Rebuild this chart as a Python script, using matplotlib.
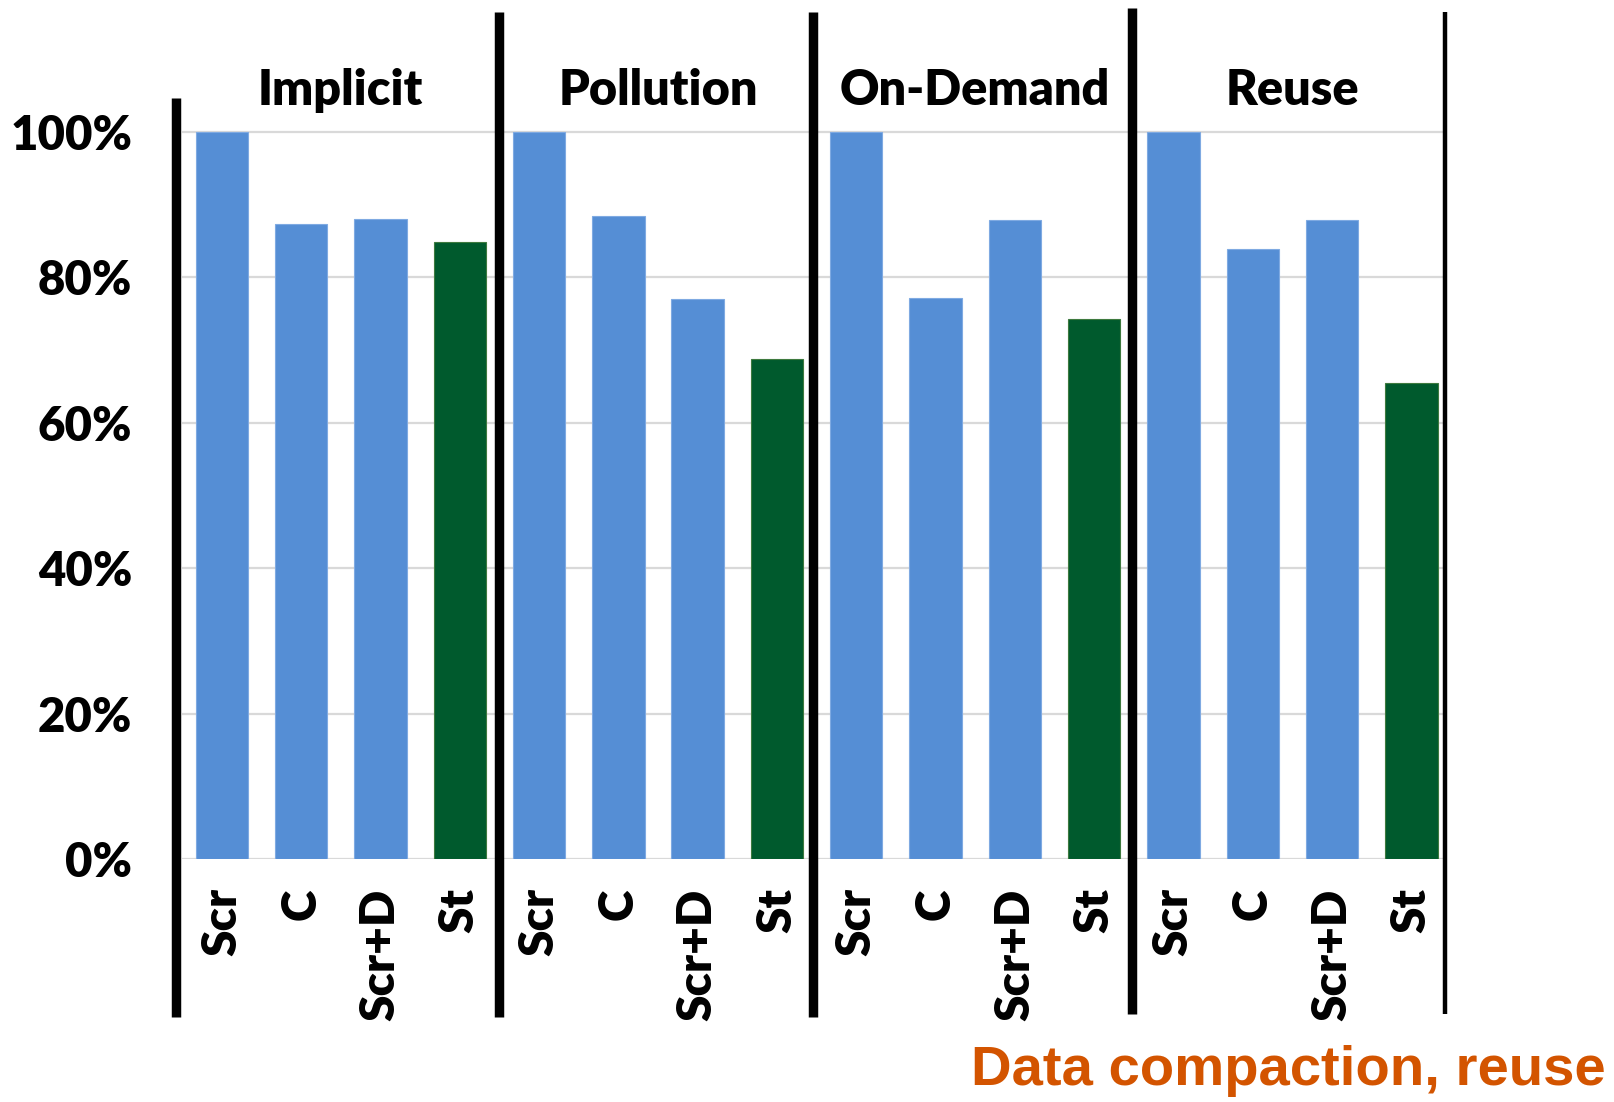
import matplotlib.pyplot as plt
from matplotlib.lines import Line2D
from matplotlib.transforms import blended_transform_factory
from matplotlib.ticker import FuncFormatter

# --- Data ---
groups = ['Implicit', 'Pollution', 'On-Demand', 'Reuse']
configs = ['Scr', 'C', 'Scr+D', 'St']
implicit = [100, 87.3, 88.0, 84.8]
pollution = [100, 88.4, 77.0, 68.8]
on_demand = [100, 77.2, 87.9, 74.3]
reuse = [100, 83.9, 87.8, 65.4]
yticks = [0, 20, 40, 60, 80, 100]

blue = '#558ED5'
green = '#005A2D'
font = 'Lato'
weight = 'heavy'

W, H = 1614, 1102
fig = plt.figure(figsize=(W / 100, H / 100), dpi=100)

# plot area in pixels (from top-left)
step = 79.3
left_px, right_px = 182.2, 1443.0
y0_px, y100_px = 859.2, 131.7
ppu = (y0_px - y100_px) / 100
ytop_px = y100_px - ppu * 1.0
ax = fig.add_axes([left_px / W, 1 - y0_px / H, (right_px - left_px) / W, (y0_px - ytop_px) / H])

values = implicit + pollution + on_demand + reuse
labels = configs * len(groups)
colors = [green if c == 'St' else blue for c in labels]
edges = ['#3E7A3F' if c == 'St' else '#7FAAE2' for c in labels]
x = list(range(len(values)))

ax.bar(x, values, width=0.66, color=colors, edgecolor=edges, linewidth=0.8, zorder=3)

ax.set_xlim(-0.5, -0.5 + (right_px - left_px) / step)
ax.set_ylim(0, 101)
ax.set_yticks(yticks)
ax.yaxis.set_major_formatter(FuncFormatter(lambda v, p: f'{v:.0f}%'))
ax.grid(axis='y', color='#D9D9D9', linewidth=1.6, zorder=0)
ax.set_axisbelow(True)
for s in ax.spines.values():
    s.set_visible(False)

ax.set_xticks(x)
ax.set_xticklabels(labels, rotation=90, va='top', ha='center')
ax.tick_params(axis='x', length=0, pad=21)
ax.tick_params(axis='y', length=0, pad=36)
for t in ax.get_xticklabels():
    t.set_fontfamily(font)
    t.set_fontweight(weight)
    t.set_fontsize(34.5)
for t in ax.get_yticklabels():
    t.set_fontfamily(font)
    t.set_fontweight(weight)
    t.set_fontsize(34)

# group separators
trans = blended_transform_factory(ax.transData, fig.transFigure)
seps = [(-0.574, 0.9113, 0.0771, 6.8),
        (3.489, 0.9887, 0.0771, 6.8),
        (7.458, 0.9887, 0.0771, 6.8),
        (11.48, 0.9926, 0.0799, 6.8),
        (15.43, 0.9887, 0.0799, 3.2)]
for xs, yt, yb, lw in seps:
    fig.add_artist(Line2D([xs, xs], [yb, yt], transform=trans, color='black',
                          linewidth=lw, solid_capstyle='butt'))

# group headers
for i, g in enumerate(groups):
    ax.text(i * 4 + 1.5, 1 - 105 / H, g, transform=trans, ha='center', va='baseline',
            fontsize=35, fontweight=weight, fontfamily=font)

fig.text(1606 / W, 1 - 1085 / H, 'Data compaction, reuse', ha='right', va='baseline',
         fontsize=40.5, fontweight='bold', fontfamily='Liberation Sans', color='#D35400')

fig.savefig('out.png', dpi=100)
